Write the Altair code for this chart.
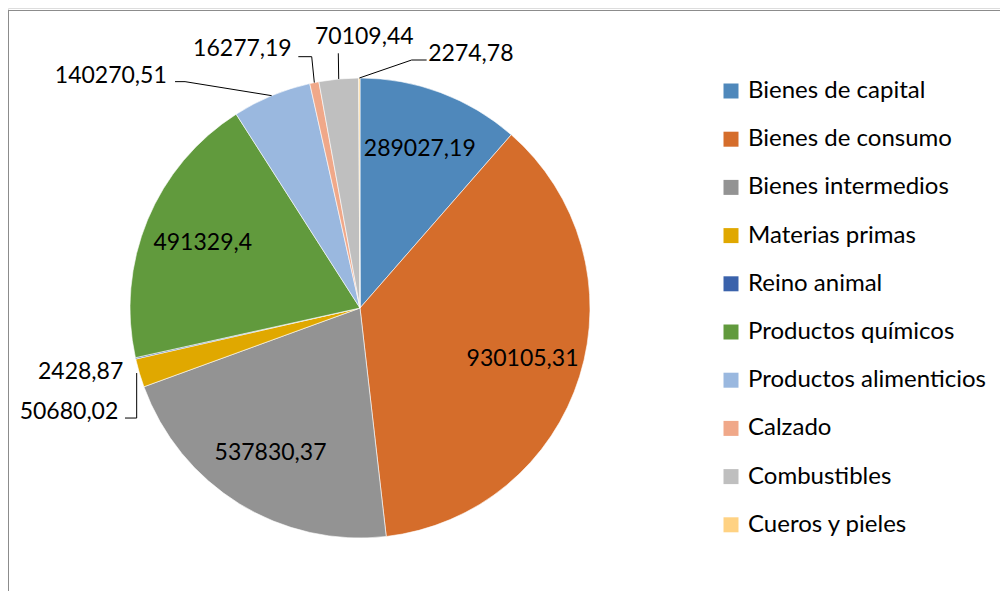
import math
import altair as alt
import pandas as pd

# ---- data ----
categories = ["Bienes de capital", "Bienes de consumo", "Bienes intermedios",
              "Materias primas", "Reino animal", "Productos químicos",
              "Productos alimenticios", "Calzado", "Combustibles", "Cueros y pieles"]
values = [289027.19, 930105.31, 537830.37, 50680.02, 2428.87,
          491329.4, 140270.51, 16277.19, 70109.44, 2274.78]
value_labels = ["289027,19", "930105,31", "537830,37", "50680,02", "2428,87",
                "491329,4", "140270,51", "16277,19", "70109,44", "2274,78"]

# ---- style / layout ----
colors = ["#4F88BB", "#D56D2B", "#939393", "#E0A800", "#3A62AB",
          "#619A3D", "#9AB8DF", "#F0A889", "#BFBFBF", "#FFD283"]
FONT = "Lato"
FS = 23
LFS = 24
W, H = 992, 583
CX, CY, R = 352, 300, 230
INSIDE_R = 0.74
inside = [0, 1, 2, 5]
# outside labels: text offset (px, screen) from slice edge anchor, alignment, leader elbow points
outside = {
    3: dict(text=(-21.1, 38.7), align="right", leader=[(-14.4, 45), (-2.7, 45), (-2.7, 0)]),
    4: dict(text=(-12.3, 13.4), align="right", leader=[]),
    6: dict(text=(-104.9, -20.0), align="right", leader=[(-96.6, -14), (-86.6, -14), (0, 0)]),
    7: dict(text=(-22.6, -33.1), align="right", leader=[(-16.0, -25.9), (-2.6, -25.9), (0, 0)]),
    8: dict(text=(-23.7, -41.7), align="left", leader=[(-0.4, -25.7), (0, 0)]),
    9: dict(text=(68.9, -24.0), align="left", leader=[(67.3, -18), (52.3, -18), (0, 0)]),
}

total = sum(values)
mids = []
acc = 0.0
for v in values:
    mids.append((acc + v / 2) / total * 2 * math.pi)
    acc += v

pie_df = pd.DataFrame({"cat": categories, "value": values, "idx": list(range(len(values)))})

lab_rows = []
for i in inside:
    a = mids[i]
    lab_rows.append(dict(label=value_labels[i], x=INSIDE_R * math.sin(a),
                         y=INSIDE_R * math.cos(a), align="center"))
line_rows = []
for i, spec in outside.items():
    a = mids[i]
    ax, ay = math.sin(a), math.cos(a)
    tx, ty = spec["text"]
    lab_rows.append(dict(label=value_labels[i], x=ax + tx / R, y=ay - ty / R, align=spec["align"]))
    for k, (px, py) in enumerate(spec["leader"]):
        line_rows.append(dict(id=i, k=k, x=ax + px / R, y=ay - py / R))
lab_df = pd.DataFrame(lab_rows)
line_df = pd.DataFrame(line_rows)

xscale = alt.Scale(domain=[-CX / R, (W - CX) / R], nice=False, zero=False)
yscale = alt.Scale(domain=[-(H - CY) / R, CY / R], nice=False, zero=False)

pie = alt.Chart(pie_df).mark_arc(outerRadius=R, stroke="white", strokeWidth=0.6).encode(
    theta=alt.Theta("value:Q", stack=True),
    order=alt.Order("idx:Q"),
    color=alt.Color("cat:N", sort=categories,
                    scale=alt.Scale(domain=categories, range=colors),
                    legend=alt.Legend(orient="none", legendX=711, legendY=71, title=None,
                                      symbolType="square", symbolSize=225,
                                      symbolStrokeWidth=0, labelFont=FONT,
                                      labelFontSize=LFS, labelColor="black",
                                      labelLimit=400, rowPadding=24.2, labelOffset=5,
                                      padding=0)),
    x=alt.value(CX), y=alt.value(CY),
)

def text_layer(align):
    return alt.Chart(lab_df[lab_df["align"] == align]).mark_text(
        font=FONT, fontSize=FS, color="black", align=align, baseline="middle"
    ).encode(
        x=alt.X("x:Q", scale=xscale, axis=None),
        y=alt.Y("y:Q", scale=yscale, axis=None),
        text="label:N",
    )

leaders = alt.Chart(line_df).mark_line(color="black", strokeWidth=1).encode(
    x=alt.X("x:Q", scale=xscale, axis=None),
    y=alt.Y("y:Q", scale=yscale, axis=None),
    detail="id:N",
    order="k:Q",
)

frame_v = alt.Chart(pie_df).mark_rule(color="#8c8c8c", strokeWidth=1).encode(
    x=alt.value(0.5), y=alt.value(2.5), y2=alt.value(H))
frame_h = alt.Chart(pie_df).mark_rule(color="#8c8c8c", strokeWidth=1).encode(
    x=alt.value(0), x2=alt.value(W), y=alt.value(2.5))

chart = alt.layer(frame_v, frame_h, pie, leaders,
                  text_layer("center"), text_layer("left"), text_layer("right")).properties(
    width=W, height=H, padding=0, autosize=alt.AutoSizeParams(type="none")
).configure_view(stroke=None).configure(background="white")

chart.save("out.html", embed_options={"renderer": "svg", "actions": False})
